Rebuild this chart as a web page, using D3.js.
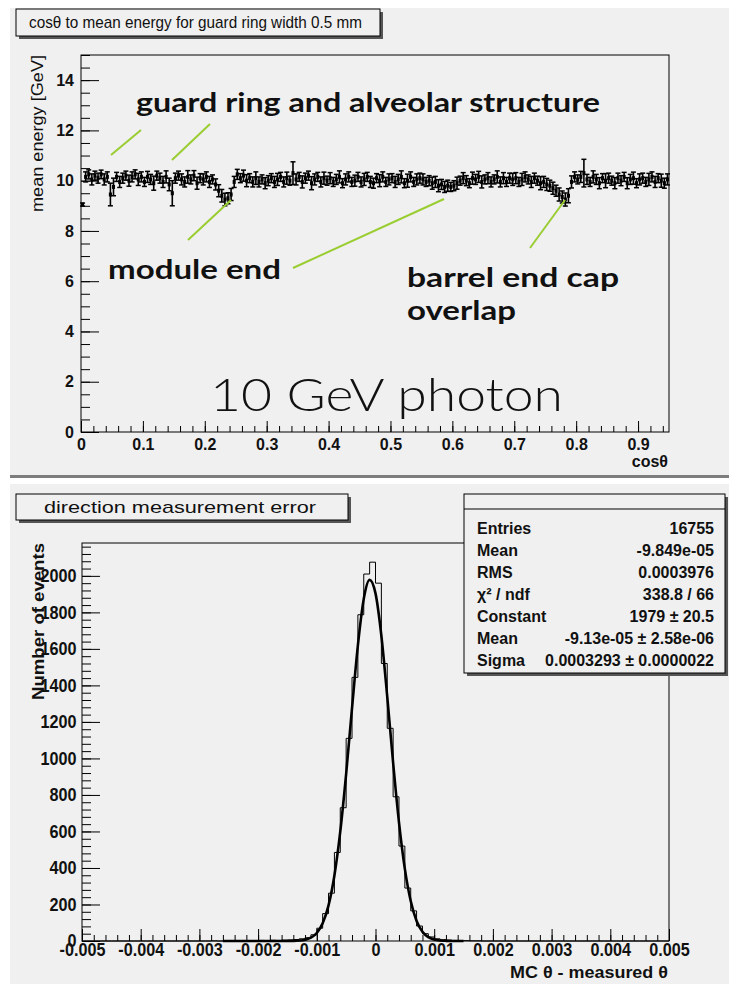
<!DOCTYPE html>
<meta charset="utf-8">
<style>
  body { margin: 0; background: #fff; }
  text { font-family: "Liberation Sans", Arial, sans-serif; }
</style>
<body>
<div id="chart"></div>
<script src="https://d3js.org/d3.v7.min.js"></script>
<script>
// ---- top plot data: mean energy per cos(theta) bin (bin width 0.005) ----
const cosBinWidth = 0.005;
const meanEnergy = [
  9.05, 10.15, 10.25, 10.05, 10.20, 10.10, 10.25, 10.05, 10.15, 9.45,
  9.75, 10.15, 9.95, 10.10, 10.20, 10.00, 10.15, 10.25, 10.05, 10.15,
  9.95, 10.15, 10.05, 9.90, 10.20, 10.10, 9.95, 10.15, 9.85, 9.50,
  10.10, 10.20, 10.05, 9.95, 10.15, 10.05, 10.20, 9.90, 10.10, 10.05,
  10.15, 9.95, 10.05, 9.85, 9.60, 9.40, 9.25, 9.30, 9.45, 9.95,
  10.25, 10.10, 10.20, 10.00, 10.10, 9.95, 10.10, 9.95, 10.05, 9.90,
  10.00, 10.10, 9.95, 10.05, 10.15, 9.95, 10.10, 10.00, 10.30, 10.05,
  10.15, 9.95, 10.10, 10.20, 9.90, 10.05, 10.15, 9.95, 10.10, 10.00,
  10.10, 9.95, 10.05, 10.15, 9.90, 10.05, 10.15, 9.95, 10.00, 10.15,
  9.95, 10.05, 10.15, 9.95, 9.90, 10.10, 10.00, 10.15, 9.95, 10.05,
  10.10, 9.95, 10.05, 10.15, 9.90, 10.00, 10.15, 9.95, 10.05, 10.10,
  10.05, 9.95, 10.00, 9.90, 9.95, 9.80, 9.85, 9.75, 9.80, 9.75,
  9.80, 9.90, 10.00, 10.10, 10.00, 9.90, 10.10, 10.05, 10.15, 9.95,
  10.05, 10.10, 9.95, 10.05, 10.15, 9.95, 10.10, 9.95, 10.10, 10.05,
  10.10, 9.95, 10.05, 10.15, 10.05, 9.95, 10.10, 10.00, 9.90, 9.95,
  9.85, 9.80, 9.70, 9.60, 9.45, 9.35, 9.25, 9.40, 9.95, 10.15,
  10.05, 10.15, 10.30, 10.05, 9.95, 10.15, 10.05, 9.90, 10.10, 10.00,
  10.10, 10.00, 9.90, 10.10, 10.00, 10.15, 9.90, 10.05, 10.10, 9.90,
  10.05, 10.10, 9.95, 10.05, 10.15, 9.95, 10.10, 10.00, 9.90, 10.05
];
const energyErr = [
  .06, .20, .18, .22, .18, .20, .17, .22, .20, .45,
  .35, .18, .22, .20, .18, .22, .20, .18, .24, .20,
  .18, .22, .20, .28, .18, .20, .22, .24, .25, .50,
  .20, .18, .22, .20, .25, .18, .20, .24, .18, .22,
  .20, .22, .18, .22, .24, .25, .25, .22, .24, .22,
  .20, .18, .22, .24, .18, .20, .25, .20, .18, .22,
  .20, .18, .22, .24, .18, .20, .24, .18, .45, .22,
  .18, .24, .20, .18, .26, .22, .18, .20, .24, .18,
  .22, .18, .20, .24, .18, .22, .20, .18, .22, .18,
  .20, .24, .18, .22, .20, .18, .24, .20, .18, .22,
  .18, .22, .20, .24, .18, .26, .20, .18, .22, .20,
  .22, .18, .20, .24, .22, .24, .20, .22, .22, .18,
  .20, .24, .18, .22, .20, .18, .24, .20, .22, .24,
  .18, .22, .20, .18, .24, .20, .22, .18, .20, .24,
  .22, .18, .24, .20, .18, .22, .20, .18, .26, .22,
  .24, .22, .24, .22, .26, .24, .26, .28, .24, .20,
  .18, .22, .55, .20, .18, .24, .20, .22, .18, .28,
  .20, .18, .22, .20, .20, .18, .22, .20, .24, .18,
  .22, .20, .18, .24, .20, .22, .18, .26, .20, .22
];
const topXTicks = [0, 0.1, 0.2, 0.3, 0.4, 0.5, 0.6, 0.7, 0.8, 0.9];
const topYTicks = [0, 2, 4, 6, 8, 10, 12, 14];

// ---- bottom plot data: histogram of MC theta - measured theta ----
const histLow = -0.005;
const histBinWidth = 0.0001;
const histCounts = [
  0, 0, 0, 0, 0, 0, 0, 0, 0, 0,
  0, 0, 0, 0, 0, 0, 0, 0, 0, 0,
  0, 0, 1, 0, 1, 1, 2, 1, 2, 2,
  3, 2, 4, 3, 5, 6, 8, 12, 18, 34,
  70, 150, 262, 485, 730, 1110, 1444, 1787, 2010, 2075,
  1960, 1520, 1165, 790, 520, 290, 165, 82, 40, 22,
  12, 7, 5, 3, 2, 2, 1, 1, 0, 0,
  0, 0, 0, 0, 0, 0, 0, 0, 0, 0,
  0, 0, 0, 0, 0, 0, 0, 0, 0, 0,
  0, 0, 0, 0, 0, 0, 0, 0, 0, 0
];
const fitX = [-0.0026, -0.0022, -0.0018, -0.0016, -0.0015, -0.0014, -0.0013, -0.0012, -0.0011, -0.0010,
  -0.0009, -0.0008, -0.0007, -0.0006, -0.0005, -0.0004, -0.0003, -0.0002, -0.0001, 0,
  0.0001, 0.0002, 0.0003, 0.0004, 0.0005, 0.0006, 0.0007, 0.0008, 0.0009, 0.0010,
  0.0011, 0.0012, 0.0013, 0.0015];
const fitY = [0, 0, 0, 0, 0.2, 0.7, 2.4, 6.8, 18, 44,
  97, 195, 359, 600, 916, 1275, 1619, 1874, 1978, 1904,
  1672, 1338, 977, 650, 395, 219, 110, 51, 21, 8,
  2.8, 0.9, 0.3, 0];
const botXTicks = [-0.005, -0.004, -0.003, -0.002, -0.001, 0, 0.001, 0.002, 0.003, 0.004, 0.005];
const botYTicks = [0, 200, 400, 600, 800, 1000, 1200, 1400, 1600, 1800, 2000];
const statLabels = ["Entries", "Mean", "RMS", "χ² / ndf", "Constant", "Mean", "Sigma"];
const statValues = ["16755", "-9.849e-05", "0.0003976", "338.8 / 66", "1979 ± 20.5", "-9.13e-05 ± 2.58e-06", "0.0003293 ± 0.0000022"];

const svg = d3.select("#chart").append("svg")
  .attr("width", 729)
  .attr("height", 984);

const panelFill = "#f0f0f0";

// panels
svg.append("rect").attr("x", 10).attr("y", 8).attr("width", 719).attr("height", 468).attr("fill", panelFill);
svg.append("rect").attr("x", 10).attr("y", 475).attr("width", 719).attr("height", 3).attr("fill", "#7d7d7d");
svg.append("rect").attr("x", 10).attr("y", 484).attr("width", 719).attr("height", 500).attr("fill", panelFill);

function titleBox(x, y, w, h, label, tx, ty, len) {
  svg.append("rect").attr("x", x + 3).attr("y", y + 3).attr("width", w).attr("height", h).attr("fill", "#555");
  svg.append("rect").attr("x", x).attr("y", y).attr("width", w).attr("height", h)
    .attr("fill", panelFill).attr("stroke", "#000");
  svg.append("text").attr("x", tx).attr("y", ty)
    .attr("font-size", 17).attr("fill", "#111")
    .attr("textLength", len).attr("lengthAdjust", "spacingAndGlyphs")
    .text(label);
}

function styleTicks(g, size, sx) {
  g.select(".domain").remove();
  g.selectAll("line").attr("stroke", "#000");
  g.selectAll("text")
    .attr("font-size", size)
    .attr("font-weight", "bold")
    .attr("fill", "#111")
    .attr("transform", `scale(${sx},1)`)
    .style("font-family", "'Liberation Sans', Arial, sans-serif");
}

// ================= TOP PLOT =================
const xTop = d3.scaleLinear().domain([0, 0.95]).range([81, 669]);
const yTop = d3.scaleLinear().domain([0, 15]).range([432, 55]);

titleBox(16, 9, 364, 27, "cosθ to mean energy for guard ring width 0.5 mm", 29, 28, 333);

svg.append("rect").attr("x", 81).attr("y", 55).attr("width", 588).attr("height", 377)
  .attr("fill", "none").attr("stroke", "#000");

svg.append("g").attr("transform", "translate(0,432)")
  .call(d3.axisBottom(xTop).tickValues(d3.range(0, 0.951, 0.02)).tickSize(-6).tickFormat(""))
  .call(g => styleTicks(g, 16, 1));
svg.append("g").attr("transform", "translate(0,432)")
  .call(d3.axisBottom(xTop).tickValues(topXTicks).tickSize(-11).tickPadding(7)
    .tickFormat(d => d === 0 ? "0" : d.toFixed(1)))
  .call(g => styleTicks(g, 16, 1));
svg.append("g").attr("transform", "translate(81,0)")
  .call(d3.axisLeft(yTop).tickValues(d3.range(0, 15.01, 0.5)).tickSize(-9).tickFormat(""))
  .call(g => styleTicks(g, 16, 1));
svg.append("g").attr("transform", "translate(81,0)")
  .call(d3.axisLeft(yTop).tickValues(topYTicks).tickSize(-18).tickPadding(7))
  .call(g => styleTicks(g, 16, 1));

svg.append("text").attr("transform", "translate(43,55) rotate(-90)")
  .attr("text-anchor", "end").attr("font-size", 16).attr("fill", "#111")
  .attr("textLength", 157).attr("lengthAdjust", "spacingAndGlyphs")
  .text("mean energy [GeV]");
svg.append("text").attr("x", 668).attr("y", 467).attr("text-anchor", "end")
  .attr("font-size", 16).attr("font-weight", "bold").attr("fill", "#111").text("cosθ");

// error bar points
const topPts = meanEnergy.map((v, i) => ({ lo: i * cosBinWidth, hi: (i + 1) * cosBinWidth, v: v, e: energyErr[i] }));
const mid = d => xTop((d.lo + d.hi) / 2);
const pg = svg.append("g").attr("stroke", "#000");
pg.selectAll("line.v").data(topPts).join("line")
  .attr("x1", mid).attr("x2", mid)
  .attr("y1", d => yTop(d.v - d.e)).attr("y2", d => yTop(d.v + d.e))
  .attr("stroke-width", 1.6);
pg.selectAll("line.cu").data(topPts).join("line")
  .attr("x1", d => mid(d) - 2.5).attr("x2", d => mid(d) + 2.5)
  .attr("y1", d => yTop(d.v + d.e)).attr("y2", d => yTop(d.v + d.e))
  .attr("stroke-width", 1.5);
pg.selectAll("line.cd").data(topPts).join("line")
  .attr("x1", d => mid(d) - 2.5).attr("x2", d => mid(d) + 2.5)
  .attr("y1", d => yTop(d.v - d.e)).attr("y2", d => yTop(d.v - d.e))
  .attr("stroke-width", 1.5);
pg.selectAll("line.h").data(topPts).join("line")
  .attr("x1", d => xTop(d.lo)).attr("x2", d => xTop(d.hi))
  .attr("y1", d => yTop(d.v)).attr("y2", d => yTop(d.v))
  .attr("stroke-width", 4);

// annotations
const green = "#9acd32";
const pointers = [[111, 155, 141, 130], [172, 160, 210, 124], [188, 240, 231, 200], [293, 268, 444, 199], [530, 248, 565, 200]];
svg.append("g").selectAll("line").data(pointers).join("line")
  .attr("x1", d => d[0]).attr("y1", d => d[1]).attr("x2", d => d[2]).attr("y2", d => d[3])
  .attr("stroke", green).attr("stroke-width", 2);

function note(txt, x, y, len, size, weight) {
  svg.append("text").attr("x", x).attr("y", y)
    .attr("font-size", size).attr("font-weight", weight).attr("fill", "#111")
    .attr("textLength", len).attr("lengthAdjust", "spacingAndGlyphs")
    .style("font-family", "Lato, 'Open Sans', sans-serif")
    .text(txt);
}
note("guard ring and alveolar structure", 136, 112, 464, 27, "bold");
note("module end", 108, 279, 173, 27, "bold");
note("barrel end cap", 407, 287, 212, 27, "bold");
note("overlap", 407, 320, 109, 27, "bold");
note("10 GeV photon", 210, 411, 353, 46, 300);

// ================= BOTTOM PLOT =================
const xBot = d3.scaleLinear().domain([-0.005, 0.005]).range([82, 669]);
const yBot = d3.scaleLinear().domain([0, 2180]).range([941, 543]);

titleBox(16, 494, 332, 26, "direction measurement error", 44, 513, 272);

svg.append("rect").attr("x", 82).attr("y", 543).attr("width", 587).attr("height", 398)
  .attr("fill", "none").attr("stroke", "#000");

svg.append("g").attr("transform", "translate(0,941)")
  .call(d3.axisBottom(xBot).tickValues(d3.range(-0.005, 0.00501, 0.0002)).tickSize(-6).tickFormat(""))
  .call(g => styleTicks(g, 18, 0.9));
svg.append("g").attr("transform", "translate(0,941)")
  .call(d3.axisBottom(xBot).tickValues(botXTicks).tickSize(-12).tickPadding(2)
    .tickFormat(d => Math.abs(d) < 1e-9 ? "0" : d.toFixed(3)))
  .call(g => styleTicks(g, 18, 0.9));
svg.append("g").attr("transform", "translate(82,0)")
  .call(d3.axisLeft(yBot).tickValues(d3.range(0, 2181, 40)).tickSize(-9).tickFormat(""))
  .call(g => styleTicks(g, 18, 0.9));
svg.append("g").attr("transform", "translate(82,0)")
  .call(d3.axisLeft(yBot).tickValues(botYTicks).tickSize(-18).tickPadding(6).tickFormat(d3.format("d")))
  .call(g => styleTicks(g, 18, 0.9));

svg.append("text").attr("transform", "translate(44,543) rotate(-90)")
  .attr("text-anchor", "end").attr("font-size", 17).attr("font-weight", "bold").attr("fill", "#111")
  .attr("textLength", 157).attr("lengthAdjust", "spacingAndGlyphs")
  .text("Number of events");
svg.append("text").attr("x", 668).attr("y", 978).attr("text-anchor", "end")
  .attr("font-size", 17).attr("font-weight", "bold").attr("fill", "#111")
  .attr("textLength", 158).attr("lengthAdjust", "spacingAndGlyphs")
  .text("MC θ - measured θ");

// histogram outline
const histPts = histCounts.map((c, i) => ({ x: histLow + i * histBinWidth, y: c }));
histPts.push({ x: histLow + histCounts.length * histBinWidth, y: histCounts[histCounts.length - 1] });
svg.append("path")
  .attr("d", d3.line().x(d => xBot(d.x)).y(d => yBot(d.y)).curve(d3.curveStepAfter)(histPts))
  .attr("fill", "none").attr("stroke", "#000").attr("stroke-width", 1);

// gaussian fit curve
const fitPts = fitX.map((x, i) => ({ x: x, y: fitY[i] }));
svg.append("path")
  .attr("d", d3.line().x(d => xBot(d.x)).y(d => yBot(d.y)).curve(d3.curveMonotoneX)(fitPts))
  .attr("fill", "none").attr("stroke", "#000").attr("stroke-width", 2.6);

// stats box
const sb = { x: 464, y: 494, w: 261, h: 179 };
svg.append("rect").attr("x", sb.x + 3).attr("y", sb.y + 3).attr("width", sb.w).attr("height", sb.h).attr("fill", "#555");
svg.append("rect").attr("x", sb.x).attr("y", sb.y).attr("width", sb.w).attr("height", sb.h)
  .attr("fill", panelFill).attr("stroke", "#000");
svg.append("line").attr("x1", sb.x).attr("x2", sb.x + sb.w).attr("y1", 509).attr("y2", 509).attr("stroke", "#000");
const rows = svg.append("g").attr("font-size", 16).attr("font-weight", "bold").attr("fill", "#111");
rows.selectAll("text.l").data(statLabels).join("text")
  .attr("x", 477).attr("y", (d, i) => 534 + i * 22).text(d => d);
rows.selectAll("text.r").data(statValues).join("text")
  .attr("x", 714).attr("y", (d, i) => 534 + i * 22).attr("text-anchor", "end").text(d => d);
</script>
</body>
